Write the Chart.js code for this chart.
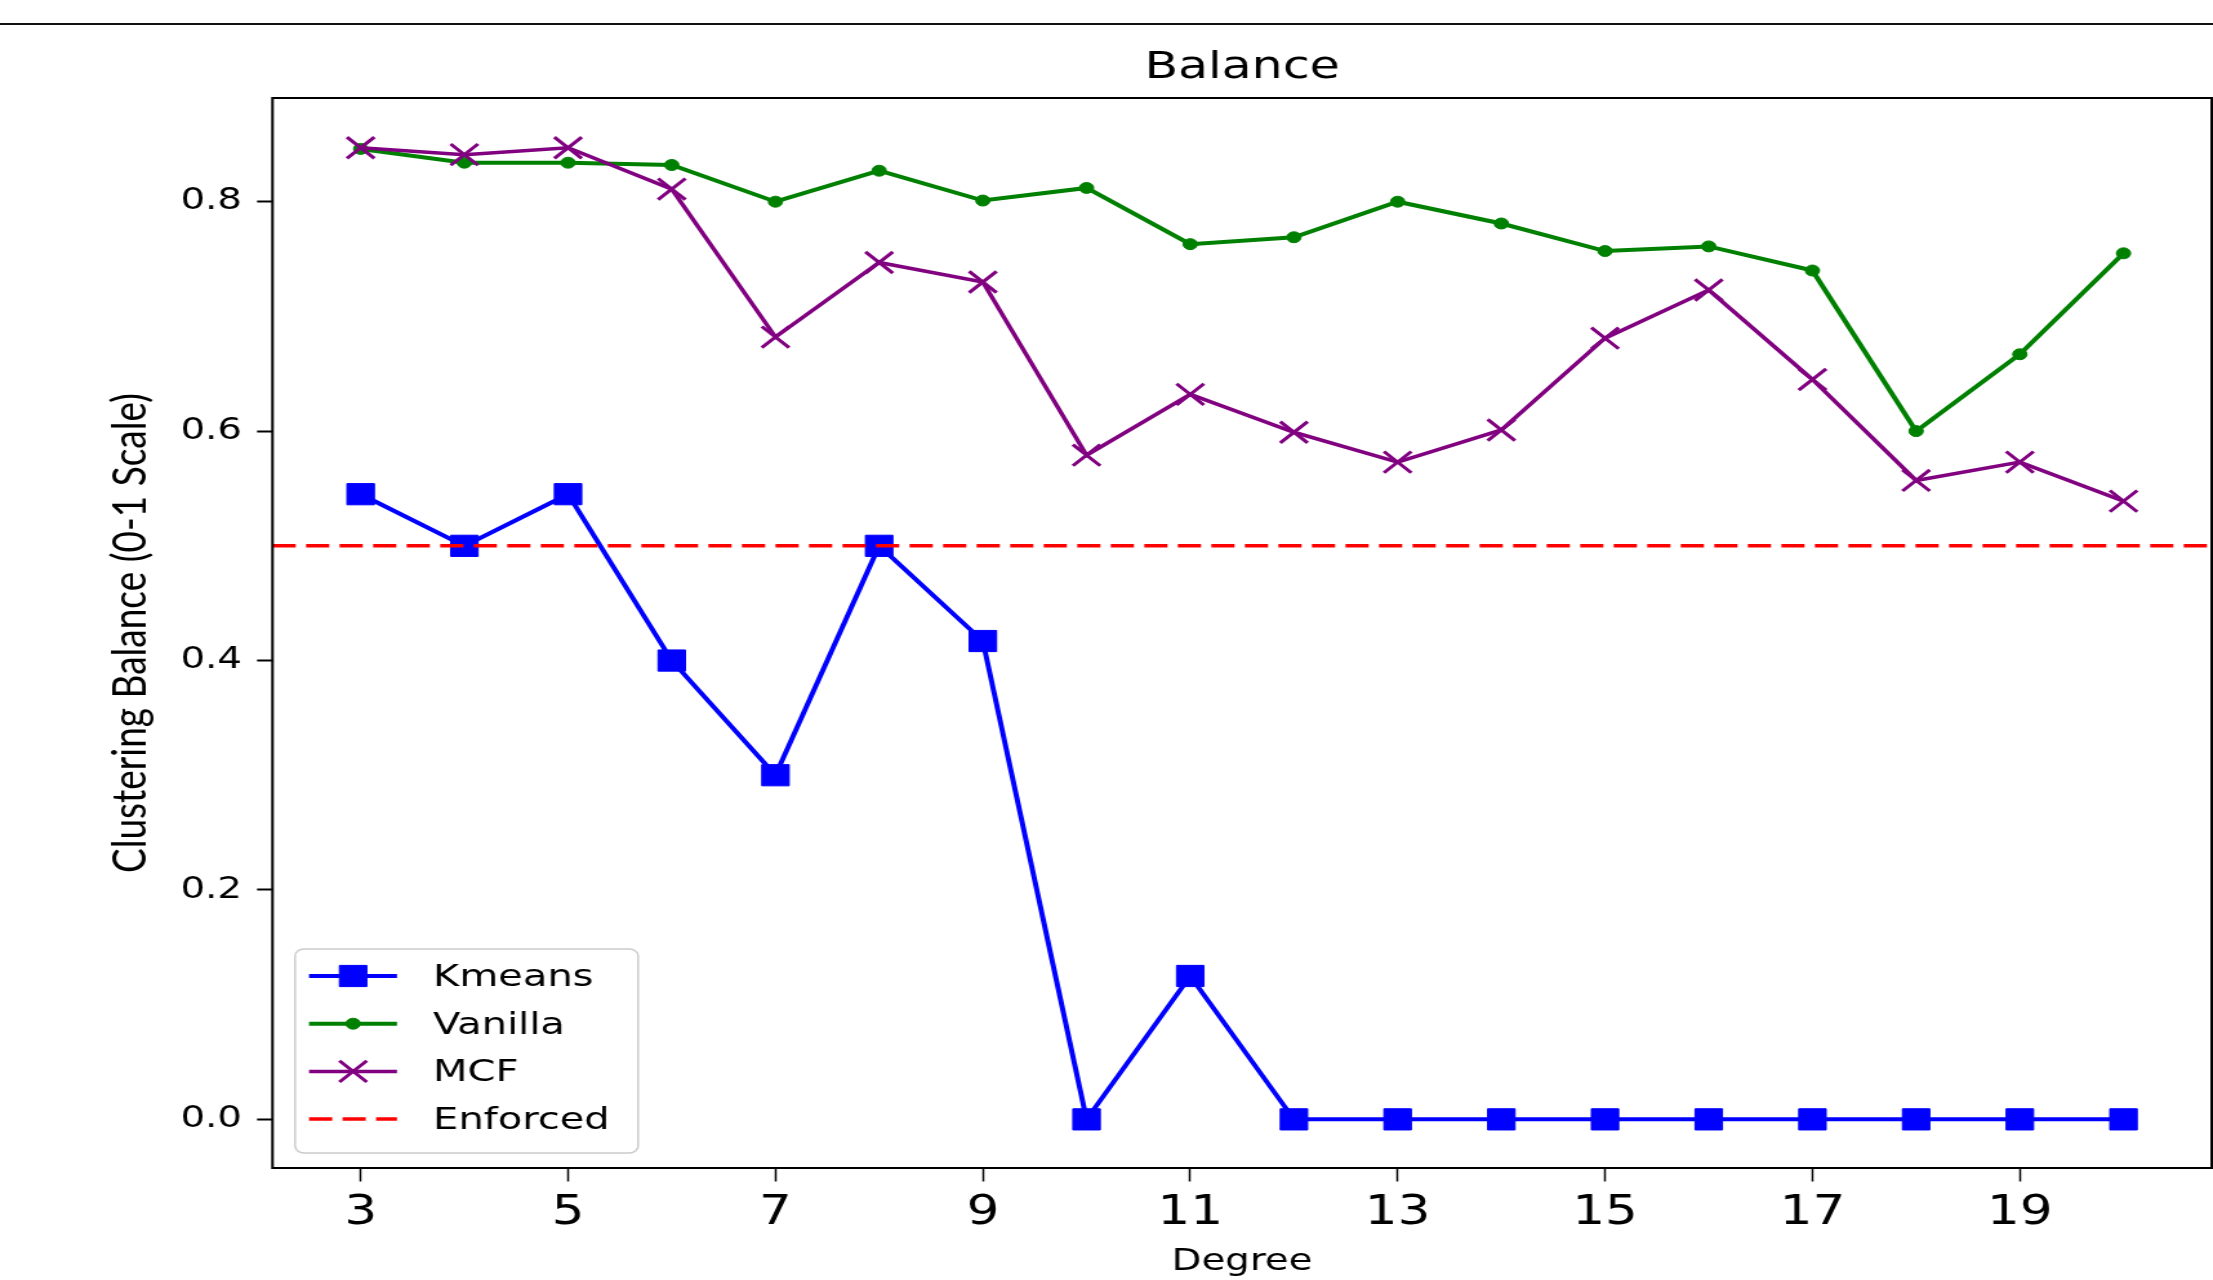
<!DOCTYPE html>
<html>
<head>
<meta charset="utf-8">
<script src="https://cdn.jsdelivr.net/npm/chart.js@4.4.0/dist/chart.umd.min.js"></script>
<style>
  html, body { margin: 0; padding: 0; background: #fff; overflow: hidden; }
  body { width: 2213px; height: 1280px; position: relative; }
  #topRule { position: absolute; left: 0; top: 23px; width: 2213px; height: 2px; background: #111; }
  /* the source picture is stretched sideways, so the chart is drawn narrow and widened */
  #wrap { position: absolute; left: 0; top: 0; width: 1716px; height: 1280px;
          transform: scaleX(1.2896); transform-origin: 0 0; }
  #chart { display: block; }
</style>
</head>
<body>
<div id="topRule"></div>
<div id="wrap"><canvas id="chart" width="1716" height="1280" style="width:1716px;height:1280px"></canvas></div>
<script>
const degrees = [3, 4, 5, 6, 7, 8, 9, 10, 11, 12, 13, 14, 15, 16, 17, 18, 19, 20]
const kmeans  = [0.545, 0.5, 0.545, 0.4, 0.3, 0.5, 0.417, 0, 0.125, 0, 0, 0, 0, 0, 0, 0, 0, 0]
const vanilla = [0.846, 0.834, 0.834, 0.832, 0.8, 0.827, 0.801, 0.812, 0.763, 0.769,
                 0.8, 0.781, 0.757, 0.761, 0.74, 0.6, 0.667, 0.755]
const mcf     = [0.847, 0.841, 0.847, 0.811, 0.682, 0.747, 0.73, 0.579, 0.632, 0.599,
                 0.573, 0.601, 0.681, 0.723, 0.645, 0.557, 0.573, 0.539]
const enforcedLevel = 0.5
const xRange = [2.15, 20.85]
const yRange = [-0.0424, 0.8904]
const xTicks = [3, 5, 7, 9, 11, 13, 15, 17, 19]
const yTicks = [0.0, 0.2, 0.4, 0.6, 0.8]

const toPoints = (vals) => vals.map((v, i) => ({x: degrees[i], y: v}))

Chart.defaults.font.family = "'DejaVu Sans', sans-serif"
Chart.defaults.color = '#000'

// axes box (matplotlib spines)
const frame = {
    id: 'frame',
    afterDatasetsDraw(chart){
        const {ctx, chartArea: a} = chart
        ctx.save()
        ctx.strokeStyle = '#000'
        ctx.lineWidth = 2
        ctx.strokeRect(a.left, a.top, a.right - a.left, a.bottom - a.top)
        ctx.restore()
    }
}

// legend sitting inside the plot, lower left
const insetLegend = {
    id: 'insetLegend',
    afterDraw(chart, args, o){
        const {ctx, chartArea} = chart
        const x0 = chartArea.left + o.offsetX
        const y0 = chartArea.bottom - o.offsetY - o.height
        ctx.save()
        ctx.beginPath()
        ctx.roundRect(x0, y0, o.width, o.height, o.radius)
        ctx.fillStyle = 'rgba(255,255,255,0.8)'
        ctx.fill()
        ctx.lineWidth = 1.5
        ctx.strokeStyle = '#cccccc'
        ctx.stroke()
        chart.data.datasets.forEach((ds, i) => {
            const y = y0 + o.firstRow + i * o.rowGap
            ctx.beginPath()
            ctx.setLineDash(ds.borderDash || [])
            ctx.strokeStyle = ds.borderColor
            ctx.lineWidth = ds.borderWidth
            ctx.moveTo(x0 + o.handleStart, y)
            ctx.lineTo(x0 + o.handleEnd, y)
            ctx.stroke()
            ctx.setLineDash([])
            if (ds.pointRadius > 0){
                ctx.fillStyle = ds.pointBackgroundColor
                ctx.strokeStyle = ds.pointBorderColor
                ctx.lineWidth = ds.pointBorderWidth
                Chart.helpers.drawPoint(ctx, {
                    pointStyle: ds.pointStyle, radius: ds.pointRadius,
                    borderWidth: ds.pointBorderWidth, rotation: 0
                }, x0 + o.marker, y)
            }
            ctx.fillStyle = '#000'
            ctx.font = o.font
            ctx.textBaseline = 'middle'
            ctx.textAlign = 'left'
            ctx.fillText(ds.label, x0 + o.textX, y + 2)
        })
        ctx.restore()
    }
}

new Chart(document.getElementById('chart'), {
    type: 'line',
    data: {
        datasets: [
            {
                label: 'Kmeans', data: toPoints(kmeans), order: 4,
                borderColor: '#0000ff', borderWidth: 4,
                pointStyle: 'rect', pointRadius: 15, pointBorderWidth: 1,
                pointBackgroundColor: '#0000ff', pointBorderColor: '#0000ff'
            },
            {
                label: 'Vanilla', data: toPoints(vanilla), order: 3,
                borderColor: '#008000', borderWidth: 4,
                pointStyle: 'circle', pointRadius: 5.5, pointBorderWidth: 1,
                pointBackgroundColor: '#008000', pointBorderColor: '#008000'
            },
            {
                label: 'MCF', data: toPoints(mcf), order: 2,
                borderColor: '#800080', borderWidth: 3.5,
                pointStyle: 'crossRot', pointRadius: 15, pointBorderWidth: 3,
                pointBackgroundColor: '#800080', pointBorderColor: '#800080'
            },
            {
                label: 'Enforced', data: xRange.map(x => ({x: x, y: enforcedLevel})), order: 1,
                borderColor: '#ff0000', borderWidth: 3.5, borderDash: [18, 8],
                pointRadius: 0
            }
        ]
    },
    options: {
        responsive: false,
        animation: false,
        events: [],
        layout: { autoPadding: false, padding: { left: 0, right: 1, top: 0, bottom: 0 } },
        plugins: {
            legend: { display: false },
            tooltip: { enabled: false },
            title: {
                display: true,
                text: 'Balance',
                fullSize: false,
                color: '#000',
                font: { size: 38, weight: 'normal' },
                padding: { top: 45.5, bottom: 6.9 }
            },
            insetLegend: {
                offsetX: 17.5, offsetY: 15, width: 266, height: 204, radius: 7,
                firstRow: 27, rowGap: 47.7,
                handleStart: 10.8, handleEnd: 79, marker: 45, textX: 107,
                font: "31px 'DejaVu Sans'"
            }
        },
        scales: {
            x: {
                type: 'linear',
                min: xRange[0],
                max: xRange[1],
                afterBuildTicks: (scale) => { scale.ticks = xTicks.map(v => ({value: v})) },
                ticks: { font: { size: 40 }, color: '#000', padding: 8, callback: (v) => String(v) },
                grid: { drawOnChartArea: false, drawTicks: true, tickLength: 13.5, tickWidth: 1.5, tickColor: '#000' },
                border: { display: false },
                title: {
                    display: true, text: 'Degree', color: '#000',
                    font: { size: 30, lineHeight: 1.1 }, padding: { top: 0, bottom: 1.5 }
                }
            },
            y: {
                min: yRange[0],
                max: yRange[1],
                afterBuildTicks: (scale) => { scale.ticks = yTicks.map(v => ({value: v})) },
                ticks: { font: { size: 30 }, color: '#000', padding: 11.6, callback: (v) => v.toFixed(1) },
                grid: { drawOnChartArea: false, drawTicks: true, tickLength: 12, tickWidth: 2, tickColor: '#000' },
                border: { display: false },
                title: {
                    display: true, text: 'Clustering Balance (0-1 Scale)', color: '#000',
                    font: { size: 37, family: 'Lato' }, padding: { top: 79.2, bottom: 4.8 }
                }
            }
        }
    },
    plugins: [frame, insetLegend]
})
</script>
</body>
</html>
